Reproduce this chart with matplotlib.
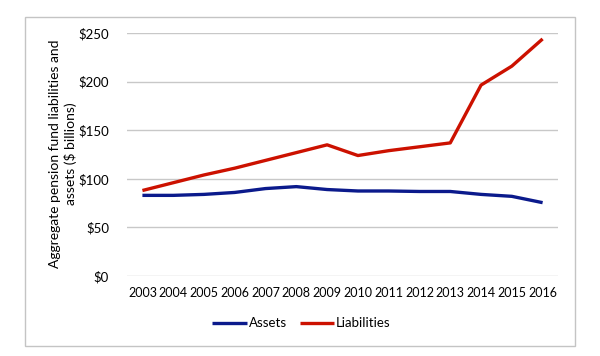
import matplotlib.pyplot as plt
from matplotlib.patches import Rectangle

years = ['2003', '2004', '2005', '2006', '2007', '2008', '2009',
         '2010', '2011', '2012', '2013', '2014', '2015', '2016']
assets = [83, 83, 84, 86, 90, 92, 89, 87.5, 87.5, 87, 87, 84, 82, 75.5]
liabilities = [88, 96, 104, 111, 119, 127, 135, 124, 129, 133, 137, 196.5, 216, 244]
yticks = [0, 50, 100, 150, 200, 250]

plt.rcParams['font.family'] = ['Lato', 'DejaVu Sans']

fig = plt.figure(figsize=(6, 3.56), dpi=100)
ax = fig.add_axes([0.2117, 0.2247, 0.7183, 0.6823])

x = range(len(years))
ax.plot(x, assets, color='#0b1a8c', lw=2.4, label='Assets', solid_capstyle='butt')
ax.plot(x, liabilities, color='#cc1100', lw=2.4, label='Liabilities', solid_capstyle='butt')

ax.set_xlim(-0.5, len(years) - 0.5)
ax.set_ylim(0, 250)
ax.set_yticks(yticks)
ax.set_yticklabels(['$' + str(v) for v in yticks], fontsize=9.5)
ax.set_xticks(list(x))
ax.set_xticklabels(years, fontsize=9)
ax.tick_params(length=0)
ax.tick_params(axis='x', pad=8)
ax.tick_params(axis='y', pad=13)

ax.grid(axis='y', color='#c8c8c8', lw=1)
ax.set_axisbelow(True)
for s in ax.spines.values():
    s.set_visible(False)

fig.text(0.105, 0.567, 'Aggregate pension fund liabilities and\nassets ($ billions)',
         rotation=90, ha='center', va='center', fontsize=10, linespacing=1.35)

ax.legend(loc='center', bbox_to_anchor=(0.405, -0.195), ncol=2, frameon=False,
          fontsize=9.5, handlelength=2.6, handletextpad=0.15, columnspacing=1.0)

# outer chart border
fig.patches.append(Rectangle((25 / 600, 1 - 346 / 356), 550 / 600, 329 / 356,
                             transform=fig.transFigure, fill=False,
                             edgecolor='#c4c4c4', lw=1))

fig.savefig('out.png', dpi=100)
